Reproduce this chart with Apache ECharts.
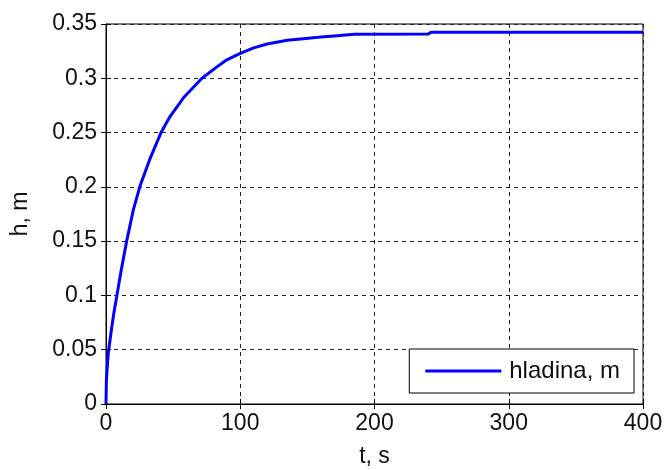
<!DOCTYPE html>
<html>
<head>
<meta charset="utf-8">
<script src="https://cdn.jsdelivr.net/npm/echarts@6/dist/echarts.min.js"></script>
<style>
  html, body { margin: 0; padding: 0; background: #fff; }
  #chart { width: 668px; height: 470px; }
</style>
</head>
<body>
<div id="chart"></div>
<script>
// Level response of the tank: time (s) and water level (m)
const timeS = [0, 0.3, 1, 1.7, 3, 4.2, 6, 8, 11, 15.4, 20.4, 25.4, 32.8, 41, 47.8, 57.7, 71.5,
  82.6, 90, 100, 110, 120, 135, 145, 160, 170, 185, 240, 242, 400];
const levelM = [0, 0.022, 0.035, 0.047, 0.059, 0.07, 0.085, 0.099, 0.121, 0.15, 0.179, 0.201,
  0.226, 0.25, 0.265, 0.282, 0.3, 0.3105, 0.317, 0.323, 0.328, 0.3316, 0.335, 0.3362, 0.338,
  0.339, 0.3405, 0.3408, 0.3424, 0.3424];
const xTicks = [0, 100, 200, 300, 400];
const yTicks = [0, 0.05, 0.1, 0.15, 0.2, 0.25, 0.3, 0.35];
const seriesName = 'hladina, m';

const font = "'Liberation Sans', Arial, sans-serif";
const labelStyle = { color: '#111', fontSize: 23, fontFamily: font };
const gridDash = { show: true, lineStyle: { color: '#222', type: [4, 4], width: 1 } };
const frameAxis = {
  axisLine: { show: true, lineStyle: { color: '#000', width: 1 } },
  axisTick: { show: true, inside: true, length: 5, lineStyle: { color: '#000' } }
};

const chart = echarts.init(document.getElementById('chart'), null, { renderer: 'canvas' });
chart.setOption({
  animation: false,
  backgroundColor: '#fff',
  grid: {
    left: 106, right: 25, top: 24, bottom: 66, outerBoundsMode: 'none', containLabel: false,
    show: true, borderColor: '#000', borderWidth: 1, backgroundColor: 'transparent'
  },
  legend: {
    right: 34, top: 349,
    data: [{ name: seriesName, icon: 'rect' }],
    itemWidth: 76, itemHeight: 3,
    padding: [10, 14, 10, 16],
    borderColor: '#000', borderWidth: 1, backgroundColor: '#fff',
    textStyle: { color: '#111', fontSize: 24, fontFamily: font, padding: [0, 0, 0, 3] }
  },
  xAxis: [Object.assign({
    type: 'value', min: xTicks[0], max: xTicks[xTicks.length - 1], interval: xTicks[1] - xTicks[0],
    name: 't, s', nameLocation: 'middle', nameGap: 41,
    nameTextStyle: { color: '#111', fontSize: 23, fontFamily: font },
    axisLabel: Object.assign({ margin: 8 }, labelStyle),
    splitLine: gridDash
  }, frameAxis), Object.assign({
    type: 'value', position: 'top', min: xTicks[0], max: xTicks[xTicks.length - 1], interval: xTicks[1] - xTicks[0],
    axisLabel: { show: false }, splitLine: { show: false }
  }, frameAxis)],
  yAxis: [Object.assign({
    type: 'value', min: yTicks[0], max: yTicks[yTicks.length - 1], interval: 0.05,
    name: 'h, m', nameLocation: 'middle', nameGap: 74, nameRotate: 90,
    nameTextStyle: { color: '#111', fontSize: 23, fontFamily: font },
    axisLabel: Object.assign({ margin: 9, formatter: v => String(+v.toFixed(2)) }, labelStyle),
    splitLine: gridDash
  }, frameAxis), Object.assign({
    type: 'value', position: 'right', min: yTicks[0], max: yTicks[yTicks.length - 1], interval: 0.05,
    axisLabel: { show: false }, splitLine: { show: false }
  }, frameAxis)],
  series: [{
    name: seriesName, type: 'line',
    data: timeS.map((t, i) => [t, levelM[i]]),
    showSymbol: false, smooth: false,
    lineStyle: { color: '#0000ff', width: 3 },
    itemStyle: { color: '#0000ff' }
  }]
});
</script>
</body>
</html>
